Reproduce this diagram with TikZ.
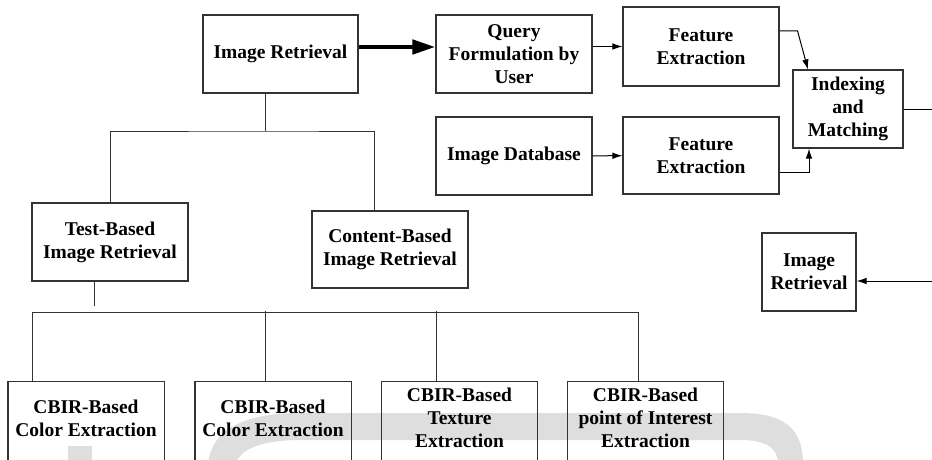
\documentclass[tikz,border=0pt]{standalone}
\usepackage{fontspec}
\setmainfont{Liberation Serif}
\usetikzlibrary{arrows.meta}

\begin{document}
\begin{tikzpicture}[x=1pt,y=1pt,
    box/.style={draw=black!80,line width=1.1pt,align=center,inner sep=0pt,
      minimum width=156pt,minimum height=78pt,font=\fontsize{19.5}{22.8}\selectfont\bfseries},
    openbox/.style={box,draw=none,minimum width=155pt,minimum height=72pt},
    tree/.style={draw=black!80,line width=1pt},
    arr/.style={line width=1pt,-{Latex[length=10pt,width=6.5pt]}},
    wmark/.style={fill=black!13,draw=none}]
        \useasboundingbox (0,0) rectangle (932,459);
        \clip (0,0) rectangle (932,459);
        % watermark behind the boxes
        \fill[wmark] (68,-5) rectangle (92,13);
        \fill[wmark] (208,-5) .. controls (212,35) and (255,46) .. (300,46) -- (740,46)
            .. controls (785,46) and (803,30) .. (803,-5) -- (778,-5)
            .. controls (778,12) and (765,19) .. (740,19) -- (300,19)
            .. controls (268,19) and (240,12) .. (236,-5) -- cycle;
        % top row
        \node[box,minimum width=155pt] (ir) at (280.5,405) {Image Retrieval};
        \node[box] (query) at (514,405) {Query\\Formulation by\\User};
        \node[box,minimum height=79pt] (fe1) at (701,412.5) {Feature\\Extraction};
        \node[box,minimum width=110pt] (idx) at (848,350) {Indexing\\and\\Matching};
        \node[box] (db) at (514,303) {Image Database};
        \node[box,minimum height=77pt] (fe2) at (701,303.5) {Feature\\Extraction};
        \node[box,minimum width=94pt] (res) at (809,187) {Image\\Retrieval};
        % tree
        \node[box] (tb) at (110,217) {Test-Based\\Image Retrieval};
        \node[box,minimum height=77pt] (cb) at (390,209.5) {Content-Based\\Image Retrieval};
        \node[openbox] (c1) at (86,41) {CBIR-Based\\Color Extraction};
        \node[openbox] (c2) at (273,41) {CBIR-Based\\Color Extraction};
        \node[openbox] (c3) at (459.5,41) {CBIR-Based\\Texture\\Extraction};
        \node[openbox] (c4) at (645.5,41) {CBIR-Based\\point of Interest\\Extraction};
        \foreach \c in {c1,c2,c3,c4}
            \draw[draw=black!80,line width=1.1pt] ([yshift=-20pt]\c.south west) |- (\c.north east) -- ([yshift=-20pt]\c.south east);
        \coordinate (j1) at (265,328);
        \coordinate (bus) at (32,147);
        \coordinate (idxout) at (945,350);
        \coordinate (resin) at (945,178);
        \draw[tree] (ir.south -| j1) -- (j1);
        \draw[tree] (tb.north) |- (j1) -| ([xshift=-16pt]cb.north);
        \draw[tree] ([xshift=-16pt]tb.south) -- ++(0,-24);
        \draw[tree] ([xshift=-54pt]c1.north) |- (bus) -| ([xshift=-7.5pt]c4.north);
        \draw[tree] ([xshift=-8pt]c2.north) -- ++(0,70);
        \draw[tree] ([xshift=-23.5pt]c3.north) -- ++(0,70);
        % arrows
        \draw[line width=4.5pt,-{Triangle[length=23pt,width=14pt]}] ([yshift=7pt]ir.east) -- ([yshift=7pt]query.west);
        \draw[arr] (fe1.west -| query.east) -- (fe1.west);
        \draw[arr] (db) -- (fe2);
        \draw[arr] ([yshift=15.5pt]fe1.east) -- ++(18,0) -- ([xshift=-40pt]idx.north);
        \draw[arr] ([yshift=-16.5pt]fe2.east) -| ([xshift=-39pt]idx.south);
        \draw[line width=1pt] (idx.east) -- (idxout);
        \draw[arr] (resin) -- (res.east |- resin);
    \end{tikzpicture}
\end{document}
